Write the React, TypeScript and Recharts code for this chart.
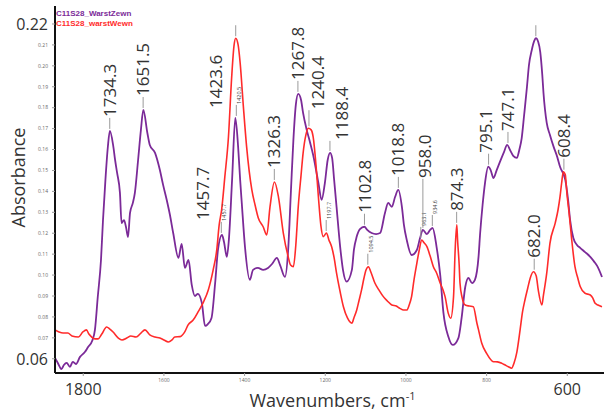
import { Label, Legend, Line, LineChart, ReferenceDot, XAxis, YAxis } from "recharts";

const PURPLE = "#7b2a98";
const RED = "#ff2b2b";
const FONT = "'Open Sans', sans-serif";

// C11S28_WarstZewn (purple)
const zewnWn = [
  1870, 1863, 1854, 1848, 1841, 1833, 1826, 1818, 1808, 1796,
  1788, 1778, 1771, 1764, 1756, 1751, 1745, 1739, 1734, 1726,
  1721, 1716, 1709, 1705, 1699, 1694, 1689, 1684, 1677, 1672,
  1664, 1657, 1651, 1641, 1635, 1622, 1610, 1602, 1593, 1585,
  1577, 1564, 1556, 1548, 1539, 1531, 1523, 1516, 1506, 1498,
  1491, 1482, 1473, 1466, 1456, 1451, 1444, 1439, 1431, 1423,
  1416, 1411, 1407, 1399, 1387, 1379, 1367, 1354, 1342, 1332,
  1320, 1312, 1300, 1292, 1285, 1279, 1273, 1267, 1260, 1255,
  1246, 1238, 1230, 1217, 1209, 1201, 1194, 1188, 1183, 1178,
  1172, 1163, 1156, 1147, 1134, 1129, 1122, 1114, 1103, 1096,
  1085, 1074, 1064, 1052, 1044, 1035, 1027, 1019, 1010, 1005,
  998, 986, 973, 965, 958, 948, 940, 934, 924, 915,
  907, 895, 884, 870, 862, 853, 845, 836, 829, 820,
  816, 810, 804, 796, 790, 783, 775, 767, 757, 749,
  742, 734, 725, 719, 713, 707, 700, 695, 688, 682,
  678, 672, 667, 662, 659, 651, 643, 634, 625, 618,
  605, 598, 593, 585, 576, 568, 556, 543, 533, 526,
  514,
];
const zewnAbs = [
  0.0604, 0.058, 0.0551, 0.057, 0.058, 0.0561, 0.0585, 0.0575, 0.0609, 0.0632,
  0.0656, 0.0685, 0.0738, 0.0895, 0.1072, 0.1263, 0.1455, 0.1612, 0.1689, 0.1622,
  0.155, 0.1488, 0.1393, 0.1249, 0.1263, 0.123, 0.1182, 0.1297, 0.1345, 0.1393,
  0.155, 0.1694, 0.1789, 0.1679, 0.1622, 0.1584, 0.1502, 0.1431, 0.1359, 0.1287,
  0.1201, 0.1082, 0.1149, 0.1034, 0.1072, 0.0953, 0.09, 0.091, 0.0867, 0.0757,
  0.0766, 0.0795, 0.0962, 0.112, 0.1192, 0.1158, 0.1087, 0.1168, 0.1455, 0.1751,
  0.1612, 0.1455, 0.1345, 0.1134, 0.0977, 0.1025, 0.1034, 0.1025, 0.1034, 0.1053,
  0.1082, 0.1048, 0.0991, 0.112, 0.1407, 0.1646, 0.1813, 0.1866, 0.1837, 0.1775,
  0.1694, 0.1636, 0.1574, 0.144, 0.1359, 0.144, 0.155, 0.1584, 0.156, 0.1455,
  0.1326, 0.1134, 0.1024, 0.0969, 0.1025, 0.112, 0.1184, 0.122, 0.1231, 0.1216,
  0.1201, 0.1196, 0.1201, 0.1297, 0.1345, 0.1326, 0.1373, 0.1407, 0.1326, 0.124,
  0.1168, 0.1096, 0.112, 0.1177, 0.1216, 0.1196, 0.1216, 0.1225, 0.1134, 0.1,
  0.0819, 0.0706, 0.0666, 0.0699, 0.0795, 0.0943, 0.0986, 0.0962, 0.0977, 0.1088,
  0.1201, 0.1335, 0.144, 0.1518, 0.1502, 0.1464, 0.1502, 0.1541, 0.1588, 0.1622,
  0.1598, 0.157, 0.156, 0.1598, 0.1655, 0.1765, 0.1899, 0.2004, 0.2076, 0.2119,
  0.2132, 0.2114, 0.2066, 0.1957, 0.187, 0.1727, 0.167, 0.1614, 0.1565, 0.1518,
  0.1455, 0.1359, 0.1263, 0.1177, 0.1144, 0.113, 0.111, 0.1087, 0.1063, 0.1044,
  0.0991,
];

// C11S28_warstWewn (red)
const wewnWn = [
  1870, 1860, 1850, 1838, 1828, 1812, 1801, 1792, 1786, 1779,
  1771, 1763, 1754, 1742, 1734, 1726, 1713, 1704, 1692, 1682,
  1669, 1657, 1647, 1635, 1622, 1610, 1600, 1589, 1580, 1573,
  1560, 1548, 1540, 1527, 1515, 1502, 1490, 1478, 1469, 1463,
  1457, 1449, 1440, 1432, 1426, 1422, 1416, 1411, 1403, 1395,
  1382, 1374, 1366, 1354, 1345, 1337, 1326, 1316, 1304, 1292,
  1286, 1279, 1273, 1267, 1260, 1255, 1248, 1242, 1235, 1230,
  1223, 1217, 1211, 1205, 1197, 1191, 1184, 1178, 1172, 1163,
  1155, 1145, 1134, 1129, 1122, 1116, 1110, 1104, 1099, 1093,
  1087, 1077, 1067, 1056, 1046, 1035, 1024, 1015, 1006, 998,
  992, 986, 980, 973, 967, 961, 955, 948, 940, 932,
  924, 915, 908, 903, 895, 889, 882, 878, 874, 872,
  868, 866, 861, 853, 843, 833, 824, 820, 812, 800,
  783, 773, 762, 754, 746, 738, 732, 725, 717, 711,
  705, 698, 692, 684, 677, 672, 663, 659, 651, 643,
  630, 623, 618, 614, 610, 605, 601, 595, 589, 581,
  574, 568, 556, 543, 537, 531, 524, 514,
];
const wewnAbs = [
  0.0738, 0.0728, 0.0723, 0.0723, 0.0709, 0.0704, 0.0728, 0.0738, 0.0718, 0.0704,
  0.0695, 0.0695, 0.0718, 0.0752, 0.0742, 0.0728, 0.0699, 0.069, 0.0699, 0.0709,
  0.0704, 0.0723, 0.0738, 0.0714, 0.0704, 0.0699, 0.069, 0.068, 0.069, 0.0704,
  0.0706, 0.073, 0.0762, 0.0786, 0.0825, 0.0871, 0.0929, 0.1024, 0.112, 0.124,
  0.1311, 0.1469, 0.166, 0.1947, 0.21, 0.2132, 0.21, 0.2014, 0.1805, 0.1614,
  0.1407, 0.1335, 0.1273, 0.1231, 0.1192, 0.1326, 0.1445, 0.1373, 0.1201, 0.1088,
  0.1048, 0.104, 0.1144, 0.1326, 0.1478, 0.1582, 0.167, 0.1702, 0.1694, 0.166,
  0.1526, 0.1373, 0.1239, 0.1184, 0.1201, 0.1168, 0.1134, 0.1082, 0.1009, 0.0919,
  0.0849, 0.0795, 0.077, 0.0795, 0.0833, 0.0881, 0.0929, 0.0986, 0.1024, 0.104,
  0.1015, 0.0962, 0.0929, 0.0897, 0.0876, 0.0857, 0.0852, 0.0841, 0.0833, 0.0833,
  0.0857, 0.0897, 0.0977, 0.1056, 0.112, 0.1168, 0.1154, 0.1136, 0.1091, 0.104,
  0.101, 0.0961, 0.0929, 0.0897, 0.0817, 0.0794, 0.0897, 0.112, 0.124, 0.1168,
  0.1048, 0.0962, 0.0895, 0.0857, 0.0852, 0.0849, 0.077, 0.0738, 0.0674, 0.0626,
  0.0586, 0.0585, 0.0578, 0.057, 0.0562, 0.0555, 0.058, 0.0632, 0.0738, 0.0824,
  0.0881, 0.0938, 0.0985, 0.1016, 0.0996, 0.0929, 0.0857, 0.0905, 0.1009, 0.1152,
  0.1248, 0.1311, 0.1375, 0.144, 0.1494, 0.1479, 0.1391, 0.1287, 0.1168, 0.104,
  0.0986, 0.0945, 0.0913, 0.0905, 0.0891, 0.0865, 0.0857, 0.0849,
];

// peak annotations
const bigPeakWn = [1734.3, 1651.5, 1457.7, 1423.6, 1326.3, 1267.8, 1240.4, 1188.4, 1102.8, 1018.8, 958.0, 874.3, 795.1, 747.1, 682.0, 608.4];
const bigPeakAbs = [0.1689, 0.1789, 0.1192, 0.1751, 0.1445, 0.1866, 0.1702, 0.1584, 0.1231, 0.1407, 0.1216, 0.124, 0.1518, 0.1622, 0.1016, 0.1494];
const smallPeakWn = [1457.7, 1420.5, 1197.7, 1094.5, 963.1, 934.6];
const smallPeakAbs = [0.1192, 0.1751, 0.1201, 0.104, 0.1168, 0.1225];
const bareMarkWn = [1422, 678];
const bareMarkAbs = [0.2132, 0.2132];

const xTicks = [1800, 1600, 1400, 1200, 1000, 800, 600];
const bigXTicks = [1800, 600];
const yTicks = [0.06, 0.07, 0.08, 0.09, 0.1, 0.11, 0.12, 0.13, 0.14, 0.15, 0.16, 0.17, 0.18, 0.19, 0.2, 0.21, 0.22];
const bigYTicks = [0.06, 0.22];

const zewnData = zewnWn.map((wn, i) => ({ wn, abs: zewnAbs[i] }));
const wewnData = wewnWn.map((wn, i) => ({ wn, abs: wewnAbs[i] }));

// label placement tweaks (px)
const bigNudge: Record<string, { dx?: number; lift?: number; lead?: boolean }> = {
  "1457.7": { dx: -18, lift: 15, lead: false },
  "1423.6": { dx: -19, lift: 10, lead: false },
  "1240.4": { dx: 9, lift: 19 },
  "1188.4": { dx: 12, lift: 13 },
  "958.0": { dx: 2, lift: 52 },
  "795.1": { dx: -3 },
};

function PeakMark({ cx, cy, text, big, dx = big ? 0 : 3, lift = 14, lead = true }: any) {
  const fs = big ? 17 : 5.5;
  const tx = cx + dx;
  const ty = cy - lift;
  return (
    <g>
      {lead && <line x1={cx} y1={cy - 2} x2={cx} y2={cy - lift + 1} stroke="#9a9a9a" strokeWidth={1} />}
      {text && (
        <text
          x={tx}
          y={ty}
          dy="0.36em"
          transform={`rotate(-90 ${tx} ${ty})`}
          fontSize={fs}
          fontFamily={FONT}
          fill={big ? "#333" : "#444"}
        >
          {text}
        </text>
      )}
    </g>
  );
}

function XTick({ x, y, payload }: any) {
  const big = bigXTicks.includes(payload.value);
  return (
    <text x={x} y={y} dy={big ? 19 : 6} textAnchor="middle" fontFamily={FONT} fontSize={big ? 16 : 5} fill={big ? "#333" : "#666"}>
      {payload.value}
    </text>
  );
}

function YTick({ x, y, payload }: any) {
  const big = bigYTicks.includes(payload.value);
  return (
    <text x={x - 4} y={y} dy={big ? 6 : 1.8} textAnchor="end" fontFamily={FONT} fontSize={big ? 16 : 5} fill={big ? "#333" : "#666"}>
      {Number(payload.value).toFixed(2)}
    </text>
  );
}

function LegendBox({ payload }: any) {
  return (
    <div style={{ fontFamily: "'Liberation Sans', Arial, sans-serif", fontWeight: 700, fontSize: 8, lineHeight: "10px", textAlign: "left" }}>
      {(payload || []).map((p: any) => (
        <div key={p.value} style={{ color: p.color }}>
          {p.value}
        </div>
      ))}
    </div>
  );
}

export default function App() {
  return (
    <div style={{ position: "absolute", left: 0, top: 0, width: 604, height: 416, background: "#fff" }}>
      <LineChart width={604} height={416} margin={{ top: 6, right: 0, bottom: 0, left: 0 }}>
        <XAxis
          type="number"
          dataKey="wn"
          domain={[509, 1870]}
          reversed
          ticks={xTicks}
          interval={0}
          allowDataOverflow
          height={43}
          tickSize={3}
          tickMargin={0}
          axisLine={{ stroke: "#111", strokeWidth: 2 }}
          tickLine={{ stroke: "#999" }}
          tick={<XTick />}
        >
          <Label
            content={(p: any) => {
              const vb = p.viewBox;
              return (
                <text x={vb.x + vb.width / 2 + 3} y={407} textAnchor="middle" fontFamily={FONT} fontSize={18} fill="#333">
                  Wavenumbers, cm
                  <tspan dy={-7} fontSize={11}>-1</tspan>
                </text>
              );
            }}
          />
        </XAxis>
        <YAxis
          type="number"
          domain={[0.0532, 0.2286]}
          ticks={yTicks}
          interval={0}
          allowDataOverflow
          width={55}
          tickSize={3}
          tickMargin={0}
          axisLine={{ stroke: "#111", strokeWidth: 2 }}
          tickLine={{ stroke: "#999" }}
          tick={<YTick />}
        >
          <Label
            content={(p: any) => {
              const vb = p.viewBox;
              const cx = 19;
              const cy = vb.y + vb.height / 2 - 12;
              return (
                <text x={cx} y={cy} dy="0.36em" textAnchor="middle" transform={`rotate(-90 ${cx} ${cy})`} fontFamily={FONT} fontSize={18} fill="#333">
                  Absorbance
                </text>
              );
            }}
          />
        </YAxis>
        <Legend
          layout="vertical"
          align="center"
          verticalAlign="middle"
          wrapperStyle={{ top: 9, left: 56, width: 120 }}
          content={<LegendBox />}
        />
        <Line name="C11S28_WarstZewn" data={zewnData} dataKey="abs" type="monotone" stroke={PURPLE} strokeWidth={1.8} dot={false} isAnimationActive={false} />
        <Line name="C11S28_warstWewn" data={wewnData} dataKey="abs" type="monotone" stroke={RED} strokeWidth={1.6} dot={false} isAnimationActive={false} />
        {bareMarkWn.map((wn, i) => (
          <ReferenceDot
            key={`m${i}`}
            x={wn}
            y={bareMarkAbs[i]}
            r={1}
            ifOverflow="visible"
            shape={(p: any) => <PeakMark cx={p.cx} cy={p.cy} text="" big lift={14} />}
          />
        ))}
        {smallPeakWn.map((wn, i) => (
          <ReferenceDot
            key={`s${i}`}
            x={wn}
            y={smallPeakAbs[i]}
            r={1}
            ifOverflow="visible"
            shape={(p: any) => <PeakMark cx={p.cx} cy={p.cy} text={wn.toFixed(1)} big={false} />}
          />
        ))}
        {bigPeakWn.map((wn, i) => (
          <ReferenceDot
            key={`b${i}`}
            x={wn}
            y={bigPeakAbs[i]}
            r={1}
            ifOverflow="visible"
            shape={(p: any) => <PeakMark cx={p.cx} cy={p.cy} text={wn.toFixed(1)} big {...bigNudge[wn.toFixed(1)]} />}
          />
        ))}
      </LineChart>
    </div>
  );
}
